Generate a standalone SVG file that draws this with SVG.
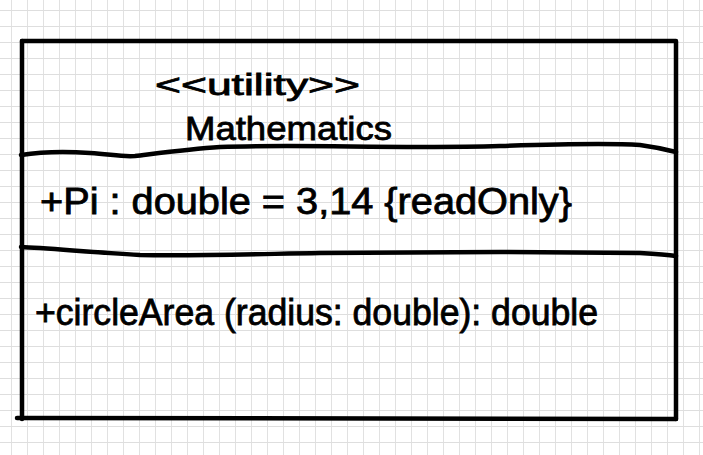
<svg xmlns="http://www.w3.org/2000/svg" width="703" height="455" viewBox="0 0 703 455">
  <style>
    .ink { fill: none; stroke: #000; stroke-width: 4.5; stroke-linecap: round; stroke-linejoin: round; }
    .txt { font-family: "Liberation Sans", "DejaVu Sans", sans-serif; fill: #000; stroke: #000; stroke-width: 0.8; }
  </style>
  <defs>
    <pattern id="grid" patternUnits="userSpaceOnUse" x="11" y="10" width="16" height="16">
      <path d="M0 0 H16 M0 0 V16" fill="none" stroke="#dedede" stroke-width="1.8"/>
    </pattern>
  </defs>
  <rect x="0" y="0" width="703" height="455" fill="#ffffff"/>
  <rect x="0" y="0" width="703" height="455" fill="url(#grid)"/>
  <g id="class-mathematics">
    <path class="ink" d="M22 41 L676 41 L676 419"/>
    <path class="ink" d="M22 41 L22 419"/>
    <path class="ink" d="M17 418 L676 419"/>
    <path class="ink" d="M21 155 C40 152 60 151 90 153 C110 154 120 157 135 156 C160 153 190 149 220 147 C300 144 400 149 500 146 C560 144 610 143 640 145 C655 147 668 150 676 152"/>
    <path class="ink" d="M21 247 C45 248 90 252 140 255 C200 256 260 254 320 253 C400 252 450 252 500 252 C560 252 610 253 640 253 C655 254 668 255 676 256"/>
    <text class="txt" x="155" y="95" font-size="30" textLength="205" lengthAdjust="spacingAndGlyphs">&lt;&lt;utility&gt;&gt;</text>
    <text class="txt" x="185" y="140" font-size="33" textLength="207" lengthAdjust="spacingAndGlyphs">Mathematics</text>
    <text class="txt" x="40" y="214" font-size="36" textLength="532" lengthAdjust="spacingAndGlyphs">+Pi : double = 3,14 {readOnly}</text>
    <text class="txt" x="35" y="325" font-size="36" textLength="563" lengthAdjust="spacingAndGlyphs">+circleArea (radius: double): double</text>
  </g>
  <g id="connectors"/>
</svg>
